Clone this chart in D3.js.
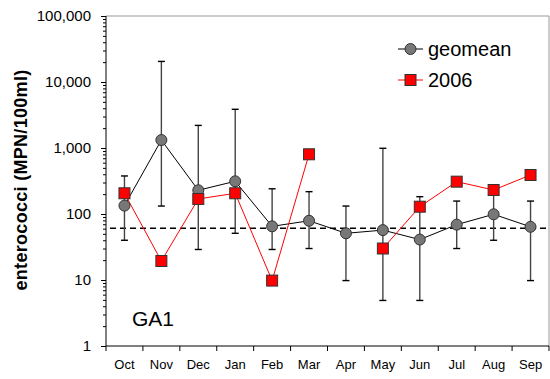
<!DOCTYPE html>
<html><head><meta charset="utf-8">
<script src="https://cdn.jsdelivr.net/npm/d3@7"></script>
<style>body{margin:0;background:#fff}svg{display:block;font-family:"Liberation Sans",Arial,sans-serif}</style>
</head><body><svg id="c" width="550" height="379"></svg>
<script>
const months = ["Oct","Nov","Dec","Jan","Feb","Mar","Apr","May","Jun","Jul","Aug","Sep"];
const geomean = [134, 1320, 229, 313, 65, 79, 51, 57, 41, 69, 99, 64];
const errHigh = [377, 20500, 2200, 3860, 241, 218, 132, 990, 183, 157, 217, 157];
const errLow  = [40, 132, 29, 51, 29, 30, 9.8, 4.9, 4.9, 30, 40, 9.8];
const y2006 = [206, 19.4, 169, 206, 9.8, 803, null, 30, 129, 309, 231, 390];
const refLine = 61;
const yTicks = [1, 10, 100, 1000, 10000, 100000];

const svg = d3.select("#c");
const L = 106, R = 549, T = 16, B = 346;
const x = d3.scaleBand().domain(months).range([L, R]);
const y = d3.scaleLog().domain([1, 100000]).range([B, T]);
const cx = m => x(m) + x.bandwidth() / 2;

// frame top/right
svg.append("path").attr("d", `M${L},${T}H${R}V${B}`).attr("fill","none").attr("stroke","#999").attr("stroke-width",1);

// y axis
const minor = [];
for (let d = 1; d < 100000; d *= 10) for (let k = 2; k <= 9; k++) minor.push(d * k);
const yAxis = svg.append("g").attr("transform", `translate(${L},0)`);
yAxis.call(d3.axisLeft(y).tickValues(minor).tickSize(3).tickFormat(""));
yAxis.call(g => g.select(".domain").remove());
const yMaj = svg.append("g").attr("transform", `translate(${L},0)`)
  .call(d3.axisLeft(y).tickValues(yTicks).tickSize(5).tickPadding(10).tickFormat(d3.format(",")));
yMaj.selectAll("text").attr("font-size", 15).attr("font-family", "Liberation Sans, Arial").attr("fill","#000");
yMaj.select(".domain").attr("d", `M0,${T}V${B}`).attr("stroke","#000");

// x axis
const xAx = svg.append("g").attr("transform", `translate(0,${B})`)
  .call(d3.axisBottom(x).tickSize(0).tickPadding(14));
xAx.selectAll("text").attr("font-size", 13).attr("font-family", "Liberation Sans, Arial").attr("fill","#000");
xAx.select(".domain").attr("d", `M${L},0H${R}`).attr("stroke","#000");
const xt = months.map(m => x(m)).concat([R]);
svg.append("g").selectAll("line").data(xt).join("line")
  .attr("x1", d => d).attr("x2", d => d).attr("y1", B).attr("y2", B + 5).attr("stroke","#000");

// reference dashed line
svg.append("line").attr("x1", 110).attr("x2", R).attr("y1", y(refLine)).attr("y2", y(refLine))
  .attr("stroke","#000").attr("stroke-width",1.5).attr("stroke-dasharray","6,4");

// error bars
const eb = svg.append("g");
months.forEach((m, i) => {
  const X = cx(m);
  eb.append("line").attr("x1", X).attr("x2", X).attr("y1", y(errHigh[i])).attr("y2", y(errLow[i]))
    .attr("stroke","#444").attr("stroke-width",1.4);
  [errHigh[i], errLow[i]].forEach(v => eb.append("line").attr("x1", X - 3.5).attr("x2", X + 3.5)
    .attr("y1", y(v)).attr("y2", y(v)).attr("stroke","#000").attr("stroke-width",1.4));
});

// geomean line
const lineG = d3.line().x((d, i) => cx(months[i])).y(d => y(d));
svg.append("path").attr("d", lineG(geomean)).attr("fill","none").attr("stroke","#000").attr("stroke-width",1);

// 2006 line
const line06 = d3.line().defined(d => d != null).x((d, i) => cx(months[i])).y(d => y(d));
svg.append("path").attr("d", line06(y2006)).attr("fill","none").attr("stroke","#ff0000").attr("stroke-width",1);

svg.append("g").selectAll("circle").data(geomean).join("circle")
  .attr("cx", (d, i) => cx(months[i])).attr("cy", d => y(d)).attr("r", 5.5)
  .attr("fill","#777").attr("stroke","#333").attr("stroke-width",1);

svg.append("g").selectAll("rect").data(y2006.map((v, i) => ({v, m: months[i]})).filter(d => d.v != null)).join("rect")
  .attr("x", d => cx(d.m) - 5.5).attr("y", d => y(d.v) - 5.5).attr("width", 11).attr("height", 11)
  .attr("fill","#ff0000").attr("stroke","#333").attr("stroke-width",1);

// legend
const lg = svg.append("g");
lg.append("line").attr("x1",398).attr("x2",423).attr("y1",49).attr("y2",49).attr("stroke","#000");
lg.append("circle").attr("cx",410.5).attr("cy",49).attr("r",5.5).attr("fill","#777").attr("stroke","#333");
lg.append("text").attr("x",428).attr("y",56).attr("font-size",20).text("geomean");
lg.append("line").attr("x1",398).attr("x2",423).attr("y1",80).attr("y2",80).attr("stroke","#ff0000");
lg.append("rect").attr("x",405).attr("y",74.5).attr("width",11).attr("height",11).attr("fill","#ff0000").attr("stroke","#333");
lg.append("text").attr("x",428).attr("y",87).attr("font-size",20).text("2006");

// GA1 label
svg.append("text").attr("x",132).attr("y",326).attr("font-size",21).text("GA1");

// y label
svg.append("text").attr("transform","translate(27,180) rotate(-90)").attr("text-anchor","middle")
  .attr("font-size",18).attr("font-weight","bold").attr("letter-spacing",0.3).text("enterococci (MPN/100ml)");
</script></body></html>
